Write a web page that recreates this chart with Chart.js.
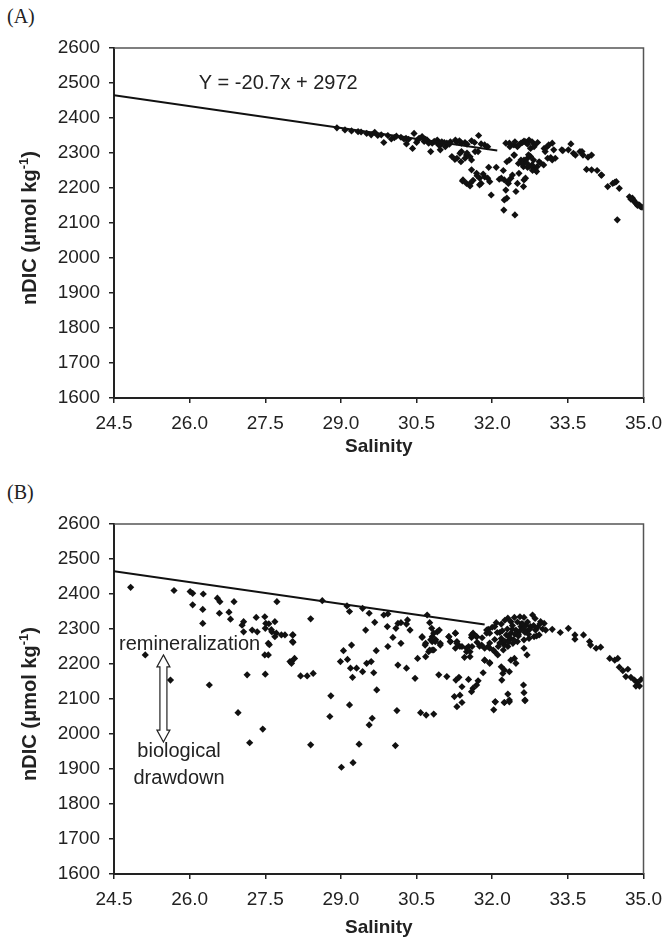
<!DOCTYPE html>
<html>
<head>
<meta charset="utf-8">
<script src="https://cdn.jsdelivr.net/npm/chart.js@4"></script>
<style>
  html, body { margin: 0; padding: 0; background: #fff; width: 671px; height: 941px; overflow: hidden; }
  .panel { position: absolute; left: 0; }
  .tag { position: absolute; left: 7px; font: 20px "Liberation Serif", "Times New Roman", serif; color: #222; }
</style>
</head>
<body>
<div class="tag" style="top: 5px;">(A)</div>
<canvas id="chartA" class="panel" width="671" height="470" style="top: 0px;"></canvas>
<div class="tag" style="top: 481px;">(B)</div>
<canvas id="chartB" class="panel" width="671" height="470" style="top: 476px;"></canvas>
<script>
// axis ticks
const xTicks = [24.5, 26.0, 27.5, 29.0, 30.5, 32.0, 33.5, 35.0];

// panel A data (salinity, nDIC)
const salA = [28.92, 29.21, 29.34, 29.51, 29.67, 29.73, 29.85, 29.93, 30.06, 30.19, 30.29, 30.42, 30.45, 30.52, 30.61, 30.71, 30.78, 30.81, 30.91, 30.97,
  31.07, 31.17, 31.27, 31.20, 31.30, 31.41, 29.08, 29.60, 30.00, 30.34, 30.68, 30.74, 30.94, 31.00, 30.97, 31.10, 30.90,
  31.26, 31.29, 31.38, 31.39, 31.39, 31.46, 31.49, 31.59, 31.59, 31.72, 31.73, 31.78, 31.85, 31.91, 31.59, 31.69, 31.75, 31.85, 31.91,
  31.78, 31.95, 31.42, 31.49, 31.56, 31.93, 32.08, 31.98, 32.22, 32.14, 32.24, 32.29, 32.32, 32.37, 32.40, 32.43, 32.27, 32.29, 32.24,
  32.23, 32.45, 32.47, 32.50, 32.53, 32.62, 32.63, 32.66, 32.27, 32.34, 32.43, 32.50, 32.57, 32.66, 32.73, 32.79, 32.84, 32.76, 32.57,
  32.63, 32.70, 32.76, 32.62, 32.70, 32.79, 32.83, 32.89, 32.88, 32.96, 33.02, 33.05, 33.03, 33.09, 33.19, 33.22, 33.19, 33.25, 33.10,
  33.40, 33.51, 33.56, 33.61, 33.74, 33.80, 33.90, 33.97, 33.87, 33.97, 34.08, 34.16, 34.29, 34.39, 34.46, 34.52, 34.48, 34.72, 34.78,
  34.81, 34.85, 34.90, 34.94, 31.36, 31.46, 31.56, 31.66, 31.56, 31.75, 32.18, 32.31, 32.44, 32.34, 32.54, 32.63, 32.83, 32.86, 32.93,
  33.12, 33.16, 33.38, 33.65, 33.78, 34.17, 34.43, 34.82, 34.92, 34.75, 34.88, 34.97,
  29.40, 29.80, 30.10, 30.25, 30.55, 30.65, 30.85, 31.05, 31.15, 31.35, 31.50, 31.65, 30.30, 30.50,
  32.52, 32.60, 32.68, 32.74, 32.80, 32.72, 32.60, 32.70, 32.45, 32.35, 32.90, 32.82, 31.62, 31.70, 31.82, 31.50];
const dicA = [2372, 2363, 2361, 2356, 2359, 2350, 2330, 2350, 2344, 2345, 2342, 2313, 2356, 2337, 2347, 2337, 2304, 2328, 2337, 2323,
  2318, 2332, 2337, 2290, 2285, 2220, 2366, 2352, 2340, 2339, 2339, 2328, 2323, 2332, 2309, 2328, 2330,
  2282, 2332, 2275, 2328, 2304, 2330, 2294, 2335, 2280, 2304, 2350, 2326, 2323, 2318, 2252, 2242, 2228, 2232, 2228,
  2213, 2218, 2223, 2213, 2206, 2259, 2259, 2180, 2250, 2225, 2223, 2275, 2213, 2228, 2237, 2294, 2194, 2171, 2166,
  2137, 2123, 2190, 2213, 2242, 2204, 2223, 2228, 2328, 2328, 2323, 2318, 2328, 2332, 2337, 2332, 2323, 2313, 2280,
  2280, 2285, 2290, 2261, 2259, 2266, 2256, 2261, 2247, 2271, 2266, 2304, 2313, 2318, 2328, 2309, 2280, 2285, 2285,
  2307, 2309, 2326, 2299, 2304, 2294, 2288, 2294, 2253, 2252, 2250, 2237, 2204, 2213, 2218, 2199, 2109, 2175, 2171,
  2164, 2156, 2152, 2147, 2299, 2285, 2289, 2304, 2213, 2209, 2228, 2218, 2294, 2280, 2325, 2334, 2318, 2251, 2275,
  2323, 2287, 2309, 2294, 2304, 2237, 2216, 2161, 2151, 2168, 2150, 2145,
  2360, 2352, 2348, 2340, 2342, 2333, 2333, 2330, 2325, 2335, 2325, 2330, 2326, 2330,
  2270, 2268, 2272, 2262, 2250, 2295, 2330, 2325, 2332, 2318, 2330, 2280, 2222, 2235, 2240, 2300];

// panel B data (salinity, nDIC)
const salB = [24.83, 25.69, 26.01, 26.06, 26.27, 26.06, 26.26, 26.55, 26.60, 26.88, 26.59, 26.78, 26.81, 27.07, 27.04, 27.32, 27.24, 27.34, 27.51, 27.50,
  27.63, 27.73, 26.26, 27.07, 27.69, 27.89, 27.56, 27.56, 27.99, 25.12, 25.62, 26.39, 27.14, 27.50, 26.96, 27.45, 27.19,
  27.49, 27.69, 27.57, 27.62, 27.72, 27.82, 28.05, 28.05, 28.02, 28.08, 27.49, 27.58,
  28.63, 28.40, 29.12, 29.17, 29.43, 29.56, 29.67, 29.85, 29.93, 29.49, 29.92, 30.13, 30.19, 30.32, 30.30, 30.37, 30.09, 30.71, 30.76, 30.80,
  30.91, 30.95, 30.61, 30.81, 30.88, 30.81, 30.67, 30.76, 30.84, 30.97, 31.14, 31.27, 31.17, 31.30, 31.27, 31.36, 31.45, 30.03, 29.93, 30.19,
  29.70, 29.21, 29.05, 29.13, 28.99, 29.19, 29.31, 29.43, 29.51, 29.60, 29.65, 29.23, 28.04, 28.04, 28.02, 28.20, 28.33, 28.45, 30.13, 30.30,
  30.52, 30.68, 30.47, 30.94, 31.10, 31.28, 31.34, 31.40, 29.71, 28.80, 29.17, 28.78, 29.62, 29.56, 30.11, 30.58, 30.69, 30.84, 31.25, 31.36,
  31.30, 31.40, 28.40, 29.36, 30.08, 29.01, 29.24, 32.06, 32.24, 32.34, 32.65,
  32.80, 32.63, 32.44, 32.31, 32.37, 32.08, 32.18, 32.05, 31.92, 31.89, 31.62, 31.69, 31.59, 31.53, 31.49, 31.56, 31.75, 31.85, 31.95, 32.05,
  32.11, 32.18, 32.28, 32.37, 32.47, 32.57, 32.67, 32.76, 32.86, 32.96, 33.03, 33.06, 32.93, 32.83, 32.73, 32.63, 32.50, 32.41, 32.31, 32.24,
  32.63, 32.69, 32.44, 32.47, 32.37, 31.85, 31.95, 32.18, 32.24, 32.21, 32.34, 32.19, 31.82, 31.53, 31.72, 31.69, 31.62, 31.59, 32.62, 32.63,
  32.65, 32.31, 32.34, 32.24, 32.06, 32.03, 33.19, 33.35, 33.51, 33.64, 33.64, 33.81, 33.93, 33.95, 34.06, 34.15, 34.33, 34.43, 34.49, 34.52,
  34.59, 34.69, 34.65, 34.75, 34.82, 34.88, 34.92, 34.95, 34.85,
  30.61, 30.68, 30.78, 30.84, 30.87, 30.97, 30.81, 30.74, 31.14, 31.17, 31.27, 31.30, 31.40, 31.49, 31.56, 31.59, 31.69, 31.79, 31.89, 31.95,
  31.92, 32.02, 31.85, 31.95, 32.15, 32.40, 32.52, 32.70, 32.88, 32.33, 32.58, 32.20,
  32.10, 32.20, 32.30, 32.40, 32.50, 32.60, 32.70, 32.75, 32.65, 32.55, 32.45, 32.35, 32.25, 32.15, 32.05, 32.12, 32.22,
  32.32, 32.42, 32.52, 32.62, 32.72, 32.82, 32.90, 32.95, 33.00, 32.85, 32.55, 32.25, 32.00, 31.95, 31.80, 31.70, 31.60];
const dicB = [2419, 2410, 2407, 2402, 2400, 2369, 2356, 2388, 2378, 2378, 2345, 2348, 2328, 2321, 2311, 2333, 2297, 2292, 2316, 2302,
  2292, 2378, 2316, 2292, 2278, 2283, 2259, 2226, 2207, 2226, 2154, 2140, 2169, 2171, 2061, 2014, 1975,
  2335, 2321, 2315, 2298, 2288, 2283, 2283, 2262, 2207, 2216, 2226, 2255,
  2381, 2329, 2366, 2350, 2359, 2345, 2319, 2340, 2343, 2297, 2307, 2316, 2318, 2326, 2314, 2297, 2302, 2340, 2318, 2302,
  2292, 2297, 2276, 2278, 2269, 2264, 2254, 2240, 2240, 2254, 2278, 2288, 2264, 2264, 2245, 2250, 2219, 2276, 2250, 2259,
  2238, 2254, 2238, 2213, 2207, 2188, 2188, 2178, 2202, 2207, 2175, 2162, 2283, 2264, 2202, 2166, 2166, 2173, 2197, 2188,
  2216, 2221, 2159, 2169, 2164, 2154, 2162, 2135, 2126, 2109, 2083, 2050, 2045, 2026, 2067, 2061, 2054, 2057, 2107, 2111,
  2078, 2090, 1969, 1971, 1967, 1905, 1918, 2092, 2090, 2092, 2095,
  2340, 2333, 2333, 2331, 2321, 2318, 2314, 2307, 2299, 2288, 2288, 2278, 2276, 2250, 2235, 2221, 2251, 2245, 2245, 2235,
  2226, 2273, 2283, 2288, 2297, 2307, 2311, 2307, 2297, 2321, 2316, 2297, 2283, 2278, 2273, 2269, 2264, 2259, 2250, 2254,
  2245, 2226, 2216, 2202, 2211, 2211, 2204, 2192, 2183, 2173, 2178, 2154, 2175, 2156, 2152, 2140, 2131, 2121, 2140, 2118,
  2097, 2114, 2097, 2090, 2092, 2069, 2299, 2290, 2302, 2283, 2271, 2283, 2264, 2254, 2245, 2248, 2216, 2211, 2216, 2191,
  2181, 2185, 2164, 2162, 2154, 2147, 2137, 2156, 2137,
  2278, 2259, 2269, 2288, 2264, 2259, 2240, 2235, 2278, 2264, 2288, 2259, 2250, 2245, 2235, 2283, 2278, 2254, 2297, 2288,
  2250, 2240, 2211, 2202, 2290, 2300, 2285, 2295, 2280, 2268, 2315, 2262,
  2290, 2295, 2300, 2310, 2320, 2315, 2320, 2300, 2290, 2295, 2285, 2275, 2265, 2260, 2270, 2250, 2240,
  2262, 2270, 2280, 2300, 2285, 2310, 2305, 2315, 2300, 2330, 2335, 2325, 2305, 2260, 2275, 2262, 2250];

// regression line Y = -20.7x + 2972
const lineSalA = [24.5, 32.1];
const lineDicA = [2465, 2307];
const lineSalB = [24.5, 31.85];
const lineDicB = [2465, 2313];

Chart.defaults.font.family = '"Liberation Sans", Arial, sans-serif';
Chart.defaults.color = '#222';

function toPoints(xs, ys) {
    return xs.map((x, i) => ({ x: x, y: ys[i] }));
}

// box around the plot + y title with superscript
const framePlugin = {
    id: 'frame',
    afterDraw(chart) {
        const ctx = chart.ctx;
        const a = chart.chartArea;
        ctx.save();
        ctx.strokeStyle = '#555';
        ctx.lineWidth = 1.5;
        ctx.beginPath();
        ctx.moveTo(a.left, a.top);
        ctx.lineTo(a.right, a.top);
        ctx.lineTo(a.right, a.bottom);
        ctx.stroke();

        // y axis title
        const big = 'bold 20px "Liberation Sans", Arial, sans-serif';
        const small = 'bold 13px "Liberation Sans", Arial, sans-serif';
        const parts = [['nDIC (\u03bcmol kg', big, 0], ['-1', small, -8], [')', big, 0]];
        let total = 0;
        parts.forEach(p => { ctx.font = p[1]; total += ctx.measureText(p[0]).width; });
        ctx.translate(36, (a.top + a.bottom) / 2 + 5);
        ctx.rotate(-Math.PI / 2);
        ctx.fillStyle = '#222';
        ctx.textBaseline = 'alphabetic';
        let x = -total / 2;
        parts.forEach(p => {
            ctx.font = p[1];
            ctx.fillText(p[0], x, p[2]);
            x += ctx.measureText(p[0]).width;
        });
        ctx.restore();
    }
};

// equation text for panel A
const equationPlugin = {
    id: 'equation',
    afterDraw(chart) {
        const ctx = chart.ctx;
        const px = chart.scales.x.getPixelForValue(26.18);
        const py = chart.scales.y.getPixelForValue(2500);
        ctx.save();
        ctx.font = '20px "Liberation Sans", Arial, sans-serif';
        ctx.fillStyle = '#222';
        ctx.textBaseline = 'middle';
        ctx.fillText('Y = -20.7x + 2972', px, py);
        ctx.restore();
    }
};

// arrow + labels for panel B
const arrowPlugin = {
    id: 'arrow',
    afterDraw(chart) {
        const ctx = chart.ctx;
        const sx = chart.scales.x, sy = chart.scales.y;
        const cx = sx.getPixelForValue(25.48);
        const y1 = sy.getPixelForValue(2226);
        const y2 = sy.getPixelForValue(1977);
        const hw = 6.5, sw = 3.5, hl = 12;
        ctx.save();
        ctx.beginPath();
        ctx.moveTo(cx, y1);
        ctx.lineTo(cx + hw, y1 + hl);
        ctx.lineTo(cx + sw, y1 + hl);
        ctx.lineTo(cx + sw, y2 - hl);
        ctx.lineTo(cx + hw, y2 - hl);
        ctx.lineTo(cx, y2);
        ctx.lineTo(cx - hw, y2 - hl);
        ctx.lineTo(cx - sw, y2 - hl);
        ctx.lineTo(cx - sw, y1 + hl);
        ctx.lineTo(cx - hw, y1 + hl);
        ctx.closePath();
        ctx.fillStyle = '#fff';
        ctx.fill();
        ctx.strokeStyle = '#222';
        ctx.lineWidth = 1.2;
        ctx.stroke();

        ctx.font = '20px "Liberation Sans", Arial, sans-serif';
        ctx.fillStyle = '#222';
        ctx.textAlign = 'center';
        ctx.textBaseline = 'middle';
        ctx.fillText('remineralization', sx.getPixelForValue(26.0), sy.getPixelForValue(2257));
        ctx.fillText('biological', sx.getPixelForValue(25.79), sy.getPixelForValue(1949));
        ctx.fillText('drawdown', sx.getPixelForValue(25.79), sy.getPixelForValue(1874));
        ctx.restore();
    }
};

function makeChart(canvasId, sal, dic, lineSal, lineDic, extraPlugin, titlePad) {
    return new Chart(document.getElementById(canvasId), {
        type: 'scatter',
        data: {
            datasets: [
                {
                    data: toPoints(sal, dic),
                    pointStyle: 'rectRot',
                    pointRadius: 3.6,
                    backgroundColor: '#111',
                    borderWidth: 0,
                    order: 2
                },
                {
                    data: toPoints(lineSal, lineDic),
                    showLine: true,
                    borderColor: '#111',
                    borderWidth: 2,
                    pointRadius: 0,
                    order: 1
                }
            ]
        },
        options: {
            responsive: false,
            animation: false,
            layout: { padding: { left: 0, right: 20, top: 48, bottom: 0 } },
            plugins: { legend: { display: false }, tooltip: { enabled: false } },
            scales: {
                x: {
                    type: 'linear',
                    min: 24.5,
                    max: 35,
                    afterBuildTicks: (s) => { s.ticks = xTicks.map(v => ({ value: v })); },
                    afterFit: (s) => { s.height = 72; },
                    grid: { drawOnChartArea: false, tickLength: 5, color: '#222', lineWidth: 1.5 },
                    border: { color: '#222', width: 2 },
                    ticks: { padding: 9, font: { size: 19 }, callback: (v) => Number(v).toFixed(1) },
                    title: { display: true, text: 'Salinity', font: { size: 19, weight: 'bold' }, padding: { top: 0, bottom: titlePad } }
                },
                y: {
                    min: 1600,
                    max: 2600,
                    ticks: { stepSize: 100, padding: 9, font: { size: 19 }, callback: (v) => String(v) },
                    afterFit: (s) => { s.width = 114; },
                    grid: { drawOnChartArea: false, tickLength: 5, color: '#222', lineWidth: 1.5 },
                    border: { color: '#222', width: 2 }
                }
            }
        },
        plugins: [framePlugin, extraPlugin]
    });
}

makeChart('chartA', salA, dicA, lineSalA, lineDicA, equationPlugin, 12);
makeChart('chartB', salB, dicB, lineSalB, lineDicB, arrowPlugin, 7);
</script>
</body>
</html>
